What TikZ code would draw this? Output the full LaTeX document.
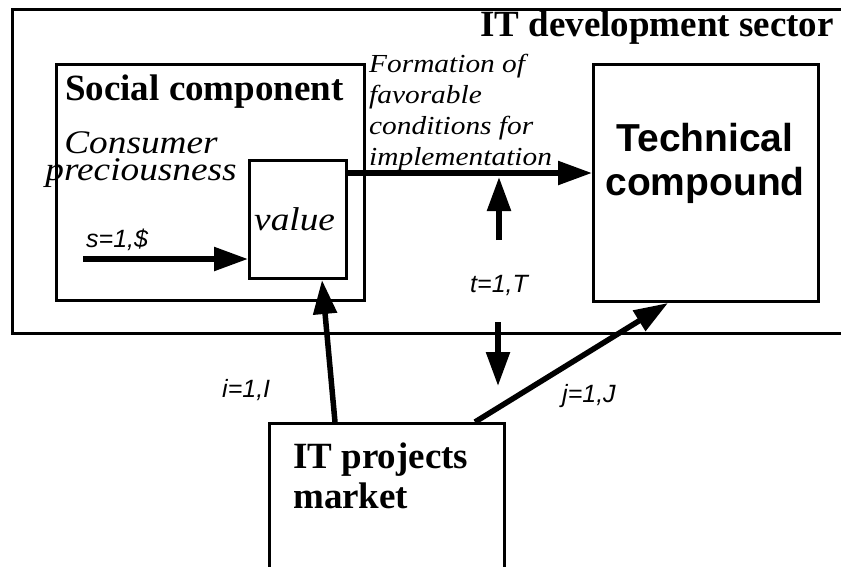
\documentclass[tikz,border=0pt]{standalone}
\usepackage{graphicx}
\usepackage{fontspec}
\setmainfont{Liberation Serif}
\newfontfamily\arialfont{Liberation Sans}
\usetikzlibrary{arrows.meta}
\newcommand{\wide}[1]{\scalebox{1.13}[1]{#1}}

\tikzset{
  box/.style={draw, line width=3pt, inner sep=0pt, anchor=north west},
  arr/.style={line width=5.5pt, -{Triangle[length=34pt,width=23pt]}},
  title/.style={inner sep=0pt, font=\fontsize{37}{40}\selectfont\bfseries},
  idx/.style={inner sep=0pt, anchor=base west, font=\arialfont\itshape\fontsize{25}{28}\selectfont}
}

\begin{document}
\begin{tikzpicture}[x=1pt,y=-1pt]
\clip (0,0) rectangle (841,566);
\fill[white] (0,0) rectangle (841,566);
% boxes
\node[box, minimum width=900pt, minimum height=324pt] (sector) at (11,8) {};
\node[box, minimum width=308pt, minimum height=236pt] (social) at (55,63) {};
\node[box, minimum width=97pt, minimum height=118pt] (value) at (248,159) {};
\node[box, minimum width=225pt, minimum height=237pt] (tech) at (592,63) {};
\node[box, minimum width=235pt, minimum height=200pt] (market) at (268,422) {};
% texts (multi-line nodes sit on their last baseline)
\node[title, anchor=base east] (sectorlabel) at (834,36) {IT development sector};
\node[title, anchor=base west] (sociallabel) at (65,100) {Social component};
\node[inner sep=0pt, anchor=base, align=center, font=\itshape\fontsize{33}{27}\selectfont] (consumer) at (141,180) {\wide{Consumer}\\\wide{preciousness}};
\node[inner sep=0pt, anchor=base west, font=\itshape\fontsize{33}{36}\selectfont] (valuelabel) at (254,230) {\wide{value}};
\node[inner sep=0pt, anchor=base west, align=left, font=\itshape\fontsize{26}{31}\selectfont] (formation) at (369,165) {\wide{Formation of}\\\wide{favorable}\\\wide{conditions for}\\\wide{implementation}};
\node[inner sep=0pt, anchor=base, align=center, font=\arialfont\bfseries\fontsize{39}{44}\selectfont] (techlabel) at (705,195) {Technical\\compound};
\node[title, anchor=base west, align=left] (marketlabel) at (293,508) {IT projects\\market};
\node[idx] (slabel) at (86,247) {s=1,\$};
\node[idx] (tlabel) at (470,292) {t=1,T};
\node[idx] (ilabel) at (222,397) {i=1,I};
\node[idx] (jlabel) at (562,402) {j=1,J};
% arrows
\coordinate (fm) at ([yshift=-14pt]value.north east);
\draw[arr] (fm) -- (fm -| tech.west);
\coordinate (sstart) at (83,259);
\draw[arr] (sstart) -- (sstart -| value.west);
\coordinate (tup) at (499,240);
\draw[arr] (tup) -- ([yshift=-4pt]tup |- fm);
\coordinate (tdown) at (498,322);
\coordinate (tdownend) at (498,386);
\draw[arr] (tdown) -- (tdownend);
\draw[arr] ([xshift=67pt]market.north west) -- ([xshift=74pt]value.south west);
\draw[arr] ([xshift=207pt]market.north west) -- ([xshift=76pt]tech.south west);
\end{tikzpicture}
\end{document}
